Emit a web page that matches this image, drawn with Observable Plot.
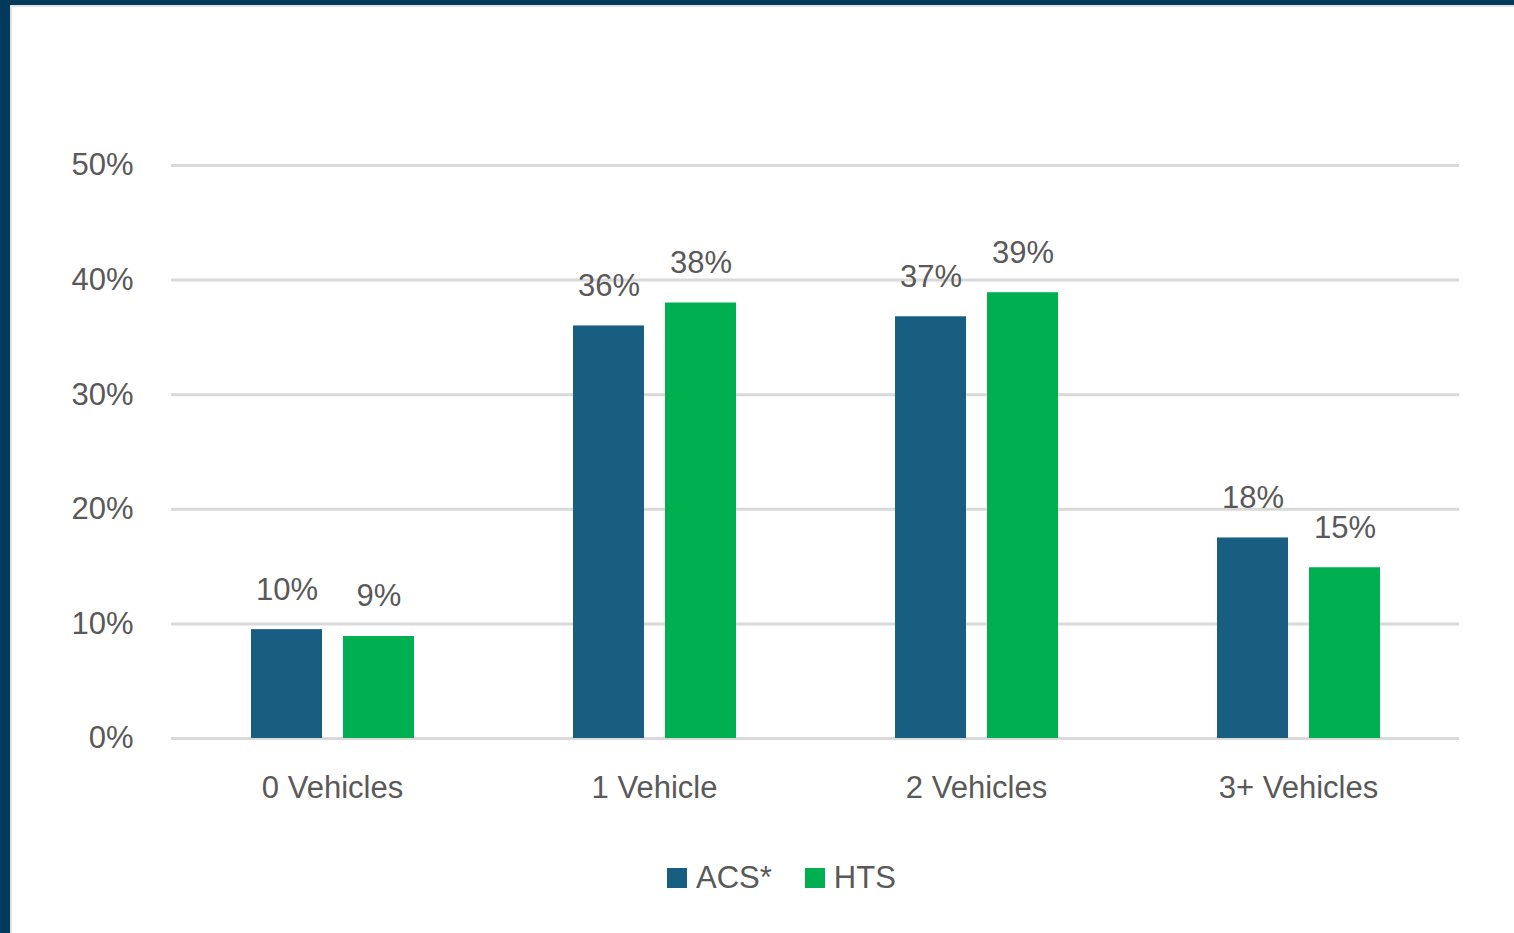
<!DOCTYPE html>
<html>
<head>
<meta charset="utf-8">
<script src="https://cdn.jsdelivr.net/npm/d3@7"></script>
<script src="https://cdn.jsdelivr.net/npm/@observablehq/plot@0.6"></script>
<style>
  html, body { margin: 0; padding: 0; }
  body { width: 1514px; height: 933px; background: #033a5b; position: relative; overflow: hidden; font-family: "Liberation Sans", Arial, sans-serif; }
  #panel { position: absolute; left: 10px; top: 5px; width: 1504px; height: 928px; background: #fff; border-left: 2px solid #e2e2e2; border-top: 2px solid #e2e2e2; box-sizing: border-box; }
  #chart { position: absolute; left: 0; top: 0; }
  #legend { position: absolute; left: 655px; top: 853px; display: flex; align-items: center; font-size: 31px; color: #595959; }
  .sw { width: 20px; height: 20px; display: inline-block; margin-right: 9px; }
  .item { display: flex; align-items: center; margin-right: 33px; }
</style>
</head>
<body>
<div id="panel"><div id="chart"></div><div id="legend"></div></div>
<script>
const categories = ["0 Vehicles", "1 Vehicle", "2 Vehicles", "3+ Vehicles"];
const series = ["ACS*", "HTS"];
const acsValues = [9.5, 36.0, 36.8, 17.5];
const htsValues = [8.9, 38.0, 38.9, 14.9];
const acsLabels = ["10%", "36%", "37%", "18%"];
const htsLabels = ["9%", "38%", "39%", "15%"];
const yTicks = [0, 10, 20, 30, 40, 50];
const colors = ["#175e81", "#00b050"];

const data = [];
categories.forEach((c, i) => {
  data.push({cat: c, series: series[0], value: acsValues[i], label: acsLabels[i]});
  data.push({cat: c, series: series[1], value: htsValues[i], label: htsLabels[i]});
});

const font = "'Liberation Sans', Arial, sans-serif";
const chart = Plot.plot({
  width: 1502,
  height: 830,
  marginLeft: 159,
  marginRight: 55,
  marginTop: 158,
  marginBottom: 99,
  style: {fontFamily: font, color: "#595959", background: "transparent"},
  fx: {domain: categories, padding: 0, label: null},
  x: {domain: series, paddingInner: 0.23, paddingOuter: 0.86, axis: null},
  y: {domain: [0, 50], axis: null},
  color: {domain: series, range: colors},
  marks: [
    Plot.ruleY(yTicks, {y: d => d, stroke: "#d9d9d9", strokeWidth: 3}),
    Plot.barY(data, {fx: "cat", x: "series", y: "value", fill: "series"}),
    Plot.text(data, {fx: "cat", x: "series", y: "value", text: "label", dy: -40, fontSize: 31, fill: "#595959"}),
    Plot.axisY(yTicks, {tickFormat: d => d + "%", tickSize: 0, tickPadding: 38, fontSize: 31, label: null}),
    Plot.axisFx({anchor: "bottom", tickSize: 0, tickPadding: 37, fontSize: 31, label: null, style: {letterSpacing: "0.5px"}})
  ]
});
document.getElementById("chart").appendChild(chart);

const legend = document.getElementById("legend");
series.forEach((s, i) => {
  const item = document.createElement("div");
  item.className = "item";
  const sw = document.createElement("span");
  sw.className = "sw";
  sw.style.background = colors[i];
  const t = document.createElement("span");
  t.textContent = s;
  item.appendChild(sw);
  item.appendChild(t);
  legend.appendChild(item);
});
</script>
</body>
</html>
